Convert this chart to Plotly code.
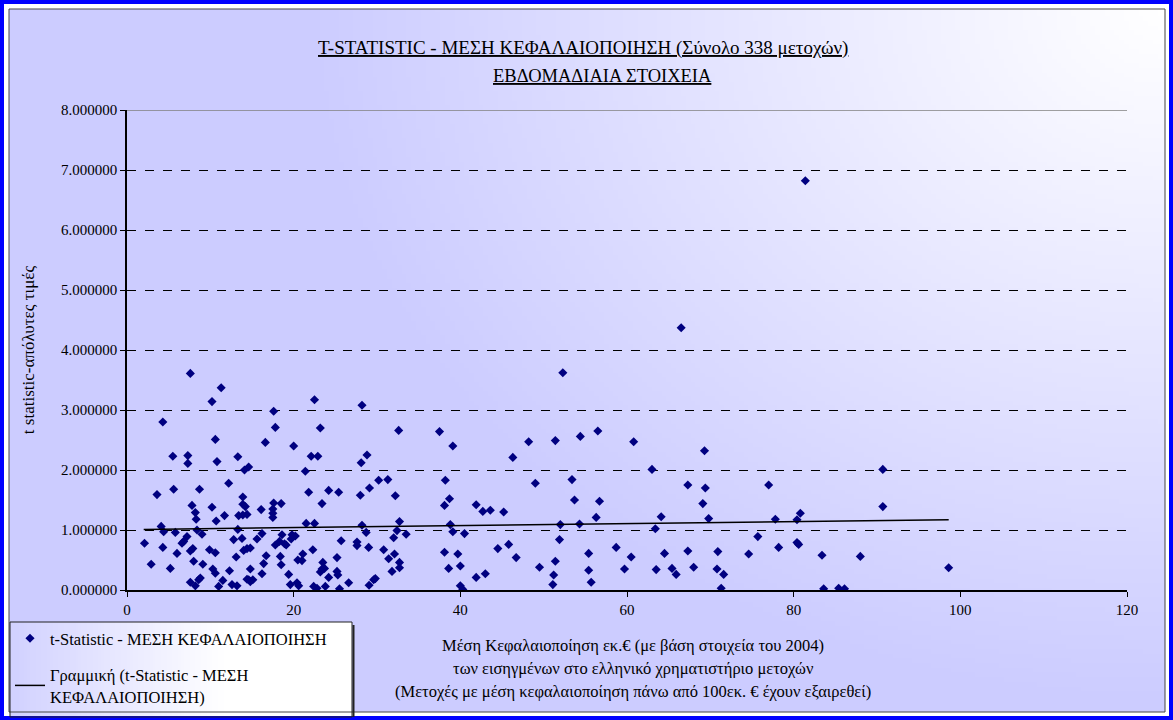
import base64, struct, zlib
import plotly.graph_objects as go

# ---------------- data ----------------
cap_x = [
    7.6, 11.3, 10.2, 4.3, 10.6, 5.5, 7.3, 7.3, 10.8, 12.2, 3.6, 5.6, 8.7, 7.8, 10.2, 8.2, 8.3, 11.7, 10.7, 4.1,
    4.4, 5.8, 8.4, 9.0, 7.2, 6.8, 6.6, 2.1, 4.3, 7.9, 7.6, 9.9, 10.6, 6.0, 8.0, 9.1, 2.9, 5.2, 10.3, 10.6,
    12.3, 8.8, 8.6, 7.6, 8.2, 11.5, 11.0,
    22.5, 17.6, 17.8, 23.2, 16.6, 20.0, 13.3, 22.1, 22.9, 14.6, 14.1, 21.4, 21.8, 24.2, 13.9, 13.9, 14.2, 23.4,
    17.6, 18.5, 17.5, 16.1, 17.5, 17.5, 13.4, 13.9, 14.4, 21.5, 22.5, 13.3, 12.8, 13.8, 15.6, 16.2, 18.6, 19.8,
    20.2, 19.7, 18.3, 17.8, 18.9, 19.1, 22.3, 14.0, 14.4, 14.8, 21.1, 16.7, 18.4, 13.1, 20.5, 21.0, 16.4, 18.5,
    23.5, 23.4, 23.7, 23.2, 14.8, 16.2, 19.4, 24.2, 14.4, 14.6, 14.8, 15.1, 20.4, 20.6, 19.6, 12.6, 13.2, 22.4,
    22.8, 23.8,
    28.2, 32.6, 37.5, 28.8, 28.1, 30.2, 31.3, 29.1, 25.4, 28.0, 32.2, 28.2, 32.7, 28.7, 32.4, 33.5, 32.0, 25.7,
    27.6, 27.6, 29.0, 30.8, 32.1, 31.4, 25.2, 32.7, 32.7, 31.8, 25.2, 25.3, 26.6, 29.6, 29.8, 29.05, 25.5,
    52.3, 39.1, 48.2, 51.4, 46.3, 38.2, 49.0, 53.4, 38.7, 38.1, 41.9, 42.7, 43.6, 45.2, 53.7, 38.8, 52.0, 39.1,
    40.5, 51.9, 45.8, 44.5, 38.1, 39.7, 46.7, 38.6, 40.0, 49.5, 51.4, 43.0, 41.9, 51.2, 51.1, 40.0, 40.3,
    54.4, 56.5, 60.8, 69.3, 63.0, 67.3, 69.4, 56.7, 69.1, 56.3, 64.1, 69.8, 54.3, 63.4, 58.7, 55.4, 60.5, 64.5,
    67.3, 59.7, 55.4, 63.5, 65.4, 68.0, 65.9, 55.7,
    77.0, 77.8, 80.4, 80.8, 75.7, 80.4, 80.6, 70.9, 74.6, 78.2, 83.4, 70.8, 71.6, 71.3, 83.6, 85.4, 86.1,
    66.5, 81.4, 90.7, 90.7, 88.0, 98.6,
]
t_stat = [
    3.61, 3.37, 3.14, 2.80, 2.51, 2.23, 2.24, 2.11, 2.14, 1.78, 1.59, 1.68, 1.68, 1.41, 1.38, 1.29, 1.18, 1.24, 1.15, 1.06,
    0.97, 0.96, 1.00, 0.93, 0.89, 0.81, 0.78, 0.78, 0.71, 0.69, 0.65, 0.67, 0.62, 0.61, 0.48, 0.43, 0.43, 0.36, 0.35, 0.28,
    0.32, 0.20, 0.17, 0.13, 0.07, 0.16, 0.06,
    3.17, 2.98, 2.71, 2.70, 2.46, 2.40, 2.22, 2.23, 2.23, 2.05, 2.00, 1.98, 1.63, 1.66, 1.55, 1.43, 1.39, 1.44,
    1.45, 1.44, 1.35, 1.34, 1.28, 1.21, 1.24, 1.25, 1.26, 1.11, 1.11, 1.01, 0.84, 0.86, 0.85, 0.94, 0.92, 0.92,
    0.90, 0.85, 0.81, 0.75, 0.77, 0.75, 0.67, 0.66, 0.69, 0.70, 0.60, 0.57, 0.56, 0.55, 0.50, 0.49, 0.44, 0.42,
    0.46, 0.35, 0.36, 0.30, 0.35, 0.27, 0.26, 0.21, 0.18, 0.17, 0.14, 0.17, 0.12, 0.07, 0.09, 0.09, 0.07, 0.06,
    0.03, 0.06,
    3.08, 2.66, 2.64, 2.25, 2.12, 1.83, 1.84, 1.70, 1.63, 1.58, 1.57, 1.08, 1.14, 0.96, 0.99, 0.93, 0.87, 0.82,
    0.80, 0.74, 0.71, 0.67, 0.60, 0.52, 0.54, 0.46, 0.37, 0.31, 0.31, 0.25, 0.12, 0.17, 0.19, 0.08, 0.02,
    3.62, 2.40, 2.47, 2.49, 2.21, 1.83, 1.78, 1.84, 1.52, 1.41, 1.42, 1.31, 1.33, 1.30, 1.50, 1.09, 1.09, 0.97,
    0.94, 0.84, 0.76, 0.69, 0.63, 0.60, 0.54, 0.36, 0.40, 0.38, 0.48, 0.27, 0.21, 0.25, 0.09, 0.07, 0.01,
    2.56, 2.65, 2.47, 2.32, 2.01, 1.75, 1.70, 1.48, 1.44, 1.21, 1.22, 1.19, 1.10, 1.02, 0.71, 0.61, 0.55, 0.61,
    0.65, 0.35, 0.33, 0.34, 0.36, 0.38, 0.26, 0.13,
    1.75, 1.18, 1.17, 1.28, 0.89, 0.79, 0.76, 0.64, 0.60, 0.71, 0.58, 0.35, 0.26, 0.03, 0.02, 0.03, 0.02,
    4.37, 6.82, 2.01, 1.39, 0.56, 0.37,
]
trend_x = [2.0, 98.6]
trend_y = [1.01, 1.17]

y_ticks = [0, 1, 2, 3, 4, 5, 6, 7, 8]
x_ticks = [0, 20, 40, 60, 80, 100, 120]

title_line1 = "T-STATISTIC - ΜΕΣΗ ΚΕΦΑΛΑΙΟΠΟΙΗΣΗ (Σύνολο 338 μετοχών)"
title_line2 = "ΕΒΔΟΜΑΔΙΑΙΑ ΣΤΟΙΧΕΙΑ"
y_title = "t statistic-απόλυτες τιμές"
x_title_lines = [
    "Μέση Κεφαλαιοποίηση εκ.€ (με βάση στοιχεία του 2004)",
    "των εισηγμένων στο ελληνικό χρηματιστήριο μετοχών",
    "(Μετοχές με μέση κεφαλαιοποίηση πάνω από 100εκ. € έχουν εξαιρεθεί)",
]
series_name = "t-Statistic - ΜΕΣΗ ΚΕΦΑΛΑΙΟΠΟΙΗΣΗ"
trend_name = "Γραμμική (t-Statistic - ΜΕΣΗ<br>ΚΕΦΑΛΑΙΟΠΟΙΗΣΗ)"

# ---------------- gradient background image ----------------
def make_png(w, h, func):
    raw = bytearray()
    for j in range(h):
        raw.append(0)
        for i in range(w):
            raw.extend(func(i / (w - 1), j / (h - 1)))
    def chunk(tag, data):
        c = struct.pack(">I", len(data)) + tag + data
        return c + struct.pack(">I", zlib.crc32(tag + data) & 0xFFFFFFFF)
    png = b"\x89PNG\r\n\x1a\n"
    png += chunk(b"IHDR", struct.pack(">IIBBBBB", w, h, 8, 2, 0, 0, 0))
    png += chunk(b"IDAT", zlib.compress(bytes(raw), 9))
    png += chunk(b"IEND", b"")
    return "data:image/png;base64," + base64.b64encode(png).decode()

def grad(u, v):
    d = ((1 - u) ** 2 + (v * 0.75) ** 2) ** 0.5 * 1.35
    t = min(1.0, d)
    r = int(round(255 - t * (255 - 204)))
    return bytes((r, r, 255))

def legend_grad(u, v):
    t = max(0.0, 1.0 - u * 1.6)
    r = int(round(255 - t * (255 - 210)))
    return bytes((r, r, 255))

bg_src = make_png(240, 150, grad)
leg_src = make_png(60, 10, legend_grad)

FONT = "'Liberation Serif', 'DejaVu Serif', serif"

# pixel helpers for paper coords (plot area: x 127..1127, y 110..590)
def px(xp):
    return (xp - 127) / 1000.0
def py(yp):
    return (590 - yp) / 480.0

fig = go.Figure()
fig.add_trace(go.Scatter(
    x=cap_x, y=t_stat, mode="markers", name=series_name, legendgroup="g1",
    marker=dict(symbol="diamond", size=7, color="#000080", line=dict(width=0)),
))
fig.add_trace(go.Scatter(
    x=trend_x, y=trend_y, mode="lines", name=trend_name, legendgroup="g2",
    line=dict(color="black", width=1.5),
))

annotations = [
    dict(text="<u>" + title_line1 + "</u>", xref="paper", yref="paper", x=px(583), y=py(48),
         showarrow=False, font=dict(family=FONT, size=19, color="black"), xanchor="center", yanchor="middle"),
    dict(text="<u>" + title_line2 + "</u>", xref="paper", yref="paper", x=px(602), y=py(76),
         showarrow=False, font=dict(family=FONT, size=18.5, color="black"), xanchor="center", yanchor="middle"),
]
for line, yy in zip(x_title_lines, [645, 668, 691]):
    annotations.append(dict(text=line, xref="paper", yref="paper", x=px(633), y=py(yy), showarrow=False,
                            font=dict(family=FONT, size=16.5, color="black"), xanchor="center", yanchor="middle"))

shapes = [
    dict(type="rect", xref="paper", yref="paper", x0=px(9), x1=px(1165), y0=py(712), y1=py(9),
         line=dict(color="#444444", width=1), layer="below"),
    dict(type="rect", xref="paper", yref="paper", x0=px(2), x1=px(1171), y0=py(718), y1=py(2),
         line=dict(color="#0000FF", width=4), layer="above"),
    dict(type="line", xref="paper", yref="y", x0=0, x1=1, y0=8, y1=8,
         line=dict(color="#808080", width=1.5), layer="below"),
    # legend box and drop shadow
    dict(type="rect", xref="paper", yref="paper", x0=px(10), x1=px(352), y0=py(717), y1=py(622),
         line=dict(color="#222222", width=1), layer="above"),
    dict(type="line", xref="paper", yref="paper", x0=px(353.5), x1=px(353.5), y0=py(717), y1=py(625),
         line=dict(color="#222222", width=2), layer="above"),
]

fig.update_layout(
    width=1173, height=720,
    margin=dict(l=127, r=46, t=110, b=130, autoexpand=False),
    paper_bgcolor="white",
    plot_bgcolor="rgba(0,0,0,0)",
    font=dict(family=FONT, size=15, color="black"),
    showlegend=True,
    legend=dict(
        x=px(10), y=py(621), xanchor="left", yanchor="top",
        bgcolor="rgba(255,255,255,0)", borderwidth=0,
        font=dict(family=FONT, size=16.5, color="black"),
        tracegroupgap=12,
    ),
    images=[
        dict(source=bg_src, xref="paper", yref="paper", x=px(9), y=py(9),
             sizex=(1165 - 9) / 1000.0, sizey=(712 - 9) / 480.0,
             xanchor="left", yanchor="top", sizing="stretch", layer="below"),
        dict(source=leg_src, xref="paper", yref="paper", x=px(10), y=py(622),
             sizex=(352 - 10) / 1000.0, sizey=(717 - 622) / 480.0,
             xanchor="left", yanchor="top", sizing="stretch", layer="below"),
    ],
    annotations=annotations,
    shapes=shapes,
    xaxis=dict(
        range=[0, 120], tickvals=x_ticks, ticktext=[str(v) for v in x_ticks],
        showgrid=False, zeroline=False, showline=True, linecolor="black", linewidth=1.5,
        ticks="outside", ticklen=5, tickcolor="black",
        tickfont=dict(family=FONT, size=15, color="black"),
    ),
    yaxis=dict(
        range=[0, 8], tickvals=y_ticks, ticktext=["%.6f" % v for v in y_ticks],
        showgrid=True, gridcolor="black", gridwidth=1, griddash="dash",
        zeroline=False, showline=True, linecolor="black", linewidth=1.5,
        ticks="outside", ticklen=5, tickcolor="black",
        tickfont=dict(family=FONT, size=15, color="black"),
        title=dict(text=y_title, font=dict(family=FONT, size=17, color="black"), standoff=22),
    ),
)

fig.write_html("out.html", config={"displayModeBar": False},
               post_script="document.body.style.margin='0';document.body.style.overflow='hidden';")
